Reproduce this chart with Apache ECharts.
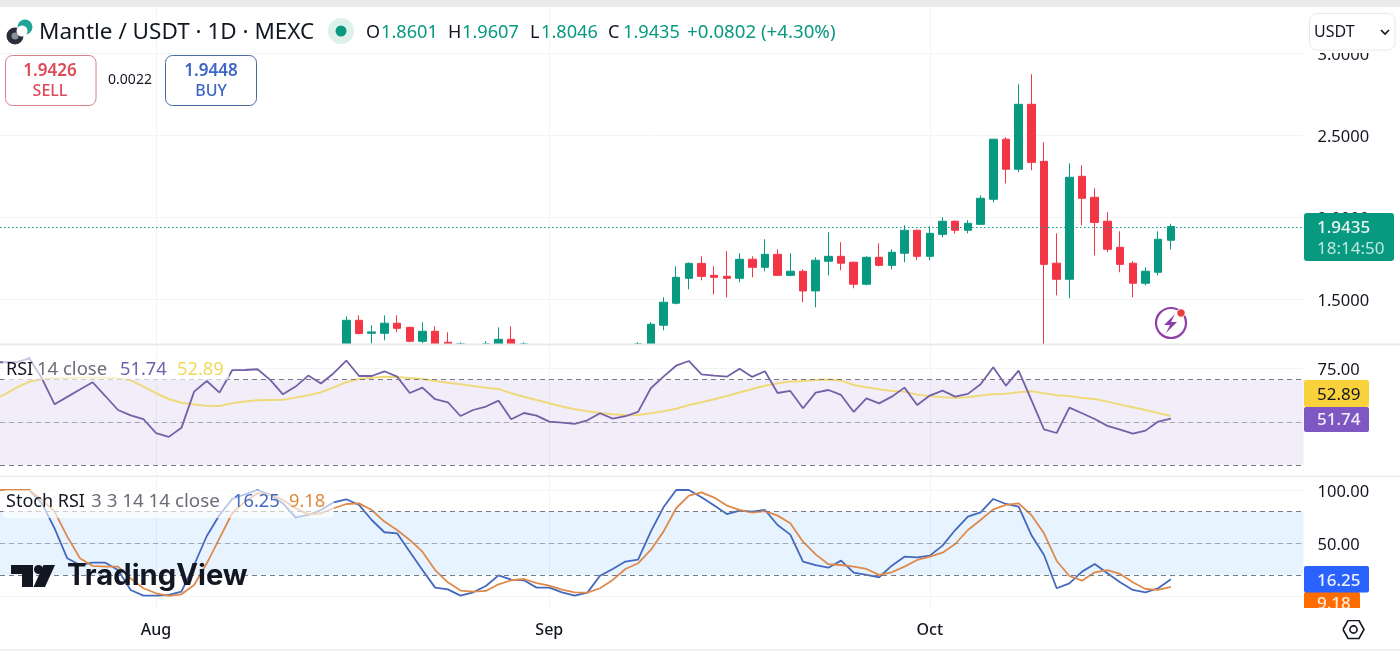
<!DOCTYPE html>
<html><head><meta charset="utf-8">
<style>html,body{margin:0;padding:0;background:#fff}#c{width:1400px;height:655px}</style>
<script src="https://cdn.jsdelivr.net/npm/echarts@6/dist/echarts.min.js"></script>
</head><body><div id="c"></div>
<script>
// ---- data (daily, first entry = 2025-07-19 for the indicators, 2025-08-16 for the candles)
const firstIndicatorDay = '2025-07-19';
const firstCandleDay = '2025-08-16';
const monthTicks = ['2025-08-01','2025-09-01','2025-10-01'];
const monthLabels = ['Aug','Sep','Oct'];
const priceTicks = [1.5,2.0,2.5,3.0];
const rsiTicks = [50,75];
const stochTicks = [0,50,100];
const opens = [1.20,1.372,1.293,1.293,1.354,1.329,1.244,1.305,1.238,1.18,null,1.16,1.20,1.256,1.20,null,null,null,null,null,null,null,null,1.17,1.21,1.342,1.476,1.628,1.719,1.646,1.640,1.628,1.744,1.695,1.774,1.646,1.671,1.551,1.732,1.762,1.726,1.592,1.756,1.707,1.781,1.921,1.762,1.896,1.976,1.921,1.957,2.110,2.476,2.293,2.689,2.341,1.720,1.622,2.250,2.122,1.976,1.817,1.720,1.598,1.665,1.8601];
const closes = [1.372,1.291,1.301,1.354,1.323,1.244,1.305,1.22,1.20,1.20,null,1.20,1.256,1.20,1.18,null,null,null,null,null,null,null,null,1.21,1.348,1.482,1.634,1.719,1.640,1.634,1.628,1.744,1.695,1.774,1.646,1.671,1.551,1.738,1.762,1.720,1.592,1.756,1.707,1.787,1.921,1.762,1.902,1.976,1.921,1.963,2.116,2.476,2.293,2.689,2.335,1.713,1.622,2.244,2.116,1.969,1.805,1.713,1.598,1.671,1.866,1.9435];
const lows = [1.18,1.287,1.230,1.250,1.299,1.238,1.232,1.20,1.18,1.15,null,1.15,1.18,1.18,1.15,null,null,null,null,null,null,null,null,1.15,1.20,1.311,1.469,1.561,1.616,1.530,1.512,1.604,1.634,1.671,1.646,1.640,1.482,1.451,1.646,1.677,1.567,1.585,1.701,1.683,1.726,1.738,1.738,1.878,1.902,1.902,1.955,2.091,2.207,2.274,2.287,1.10,1.524,1.506,1.951,1.768,1.787,1.665,1.512,1.585,1.646,1.8046];
const highs = [1.396,1.402,1.341,1.402,1.402,1.333,1.360,1.335,1.299,1.238,null,1.244,1.329,1.335,1.238,null,null,null,null,null,null,null,null,1.238,1.360,1.512,1.701,1.725,1.762,1.701,1.793,1.780,1.762,1.866,1.805,1.780,1.683,1.756,1.909,1.848,1.730,1.762,1.841,1.805,1.951,1.925,1.945,2.000,1.980,1.982,2.134,2.478,2.488,2.811,2.872,2.457,1.902,2.329,2.317,2.177,2.031,1.915,1.732,1.695,1.915,1.9607];
const rsi = [77.9,77.9,77.9,79.75,70.45,58.35,61.8,65.2,68.6,62.2,55.7,53.2,51.5,44.9,43.2,47.4,64.25,69.2,63.8,74.2,74.3,74.65,69.7,63,66.6,71.7,68,72.8,78.7,71.5,71.5,73.7,71.2,63.6,66.1,60.7,59.3,
 52.9,55.7,57.3,60.05,51.4,54.3,53.1,50.3,49.8,49.2,50.9,54.2,51.7,52.8,54.8,65.8,71.2,76.3,78.5,72.3,71.7,71.2,74.9,71.1,73.7,63.6,64.55,56.5,63.8,65,62.7,
 54.8,61.1,58.8,61.9,66.1,58.05,62.4,64.7,61.9,63.2,67.65,75.6,67,74,60.4,46.7,45,56.8,54.2,51.5,48.3,46.6,44.7,46.1,50.3,51.74];
const rsiMa = [60.35,62.7,66.1,68.9,70.15,70.45,70.6,70.75,70.75,70.75,70.45,69.5,66.6,63.5,60.8,59.1,58.2,57.7,57.6,58.8,59.6,60.2,60.35,60.5,61.45,62.55,63.95,66.25,68.6,70.15,70.75,71.2,71.1,70.6,70.15,69.2,68.4,
 67.65,66.9,66.1,65.5,63.5,61.9,60.35,58.8,57.3,56,55.1,54.3,53.7,53.2,53.4,54.2,55.1,56.3,58.05,59.3,60.7,62.2,63.8,65.5,67,68.1,68.9,69.2,69.7,69.85,69.35,
 67.35,66.25,65.35,64.55,64.25,62.85,62.2,61.6,61.45,61.6,62.4,63,63.3,63.95,64.4,63.5,62.55,62.2,61.3,60.8,59.6,58.2,57,55.7,54.3,52.89];
const stochK = [100,100,100,100,87.5,64.1,36,29.7,31.9,31.9,25,6.3,1,1,1.6,4.7,29.7,56.9,76.6,91.6,96,100,95.4,87.5,74.4,76.6,81.3,88.5,91.3,86,71.9,60.4,59.4,42.2,25,8.5,6.9,
 1,4.1,10,20,16,15.4,8.5,8.5,4.1,1,3.8,19.7,26,32.9,34.7,61,83.8,100,100,93.2,85.4,77.5,80.7,79.7,81.3,67.2,58.2,32.9,29.7,27.2,33.8,
 22.5,20.4,18.2,29.1,37.5,36.9,38.5,47.9,62.5,75,79.1,91.6,86.9,84.4,57.9,39.1,7.9,12.5,23.5,30.7,21.9,13.5,6.3,4.1,7.9,16.25];
const stochD = [100,100,100,100,90.7,79.7,56.3,36,28.8,28.2,28.2,17.2,7.9,3.2,0.7,2.2,11,31.3,54.7,78.2,89.1,96.9,95.4,90.7,82.9,77.2,78.2,82.9,86.9,87.5,81.3,70.4,62.5,53.2,42.2,25,13.5,
 5.7,4.7,5.4,11.6,15.4,16.6,12.8,10.3,6.6,4.1,3.8,7.9,15.7,26,31.3,43.8,61,82.9,94.7,97.8,92.9,85.4,81.3,78.8,80.3,76,68.8,51.6,39.7,30.4,29.7,
 28.2,26,20.4,22.9,28.2,34.4,37.5,41.3,49.4,62.5,71.9,81.9,86,87.5,76.6,59.4,33.5,19.4,15,22.9,25,21.3,13.5,7.2,6.3,9.18];
const lastPrice = 1.9435;

// ---- colours and fonts
const UP='#089981', DOWN='#F23645', GRID='#F3F4F6', FONT='"Noto Sans", sans-serif';
const PRICE_MIN=1.2274, PRICE_MAX=3.2823;
const DAY=864e5;
const ts=s=>Date.parse(s+'T00:00:00Z');
const aug1=ts(monthTicks[0]);
const axisMin=aug1-12.303*DAY, axisMax=aug1+90.457*DAY;
const indDay=i=>ts(firstIndicatorDay)+i*DAY, candleDay=i=>ts(firstCandleDay)+i*DAY;
// the price pane cuts candles off at its lower edge, so anything below it stops at the edge
const floor=v=>Math.max(v,PRICE_MIN);
const candleData=[];
opens.forEach((o,i)=>{ if(o!==null) candleData.push([candleDay(i),floor(o),floor(closes[i]),floor(lows[i]),highs[i]]); });
const pair=a=>a.map((v,i)=>[indDay(i),v]);

const xAxisBase=(gi,labels)=>({
  type:'value',gridIndex:gi,min:axisMin,max:axisMax,scale:true,
  axisLine:{show:false},
  axisTick:{show:false,customValues:monthTicks.map(ts)},
  splitLine:{show:true,lineStyle:{color:GRID,width:1}},
  axisLabel:labels?{show:true,customValues:monthTicks.map(ts),margin:14,color:'#131722',fontSize:16,fontWeight:500,fontFamily:FONT,
    formatter:v=>monthLabels[monthTicks.map(ts).indexOf(+v)]||''}:{show:false}
});
const yAxisBase=(gi,min,max,ticks,dec)=>({
  type:'value',gridIndex:gi,position:'right',min,max,scale:true,
  axisLine:{show:false},
  axisTick:{show:false,customValues:ticks},
  splitLine:{show:true,lineStyle:{color:GRID,width:1}},
  axisLabel:{show:true,customValues:ticks,margin:14,color:'#131722',fontSize:16.5,fontFamily:FONT,align:'left',verticalAlign:'top',lineHeight:4,
    formatter:v=>Number(v).toFixed(dec)}
});
const dashes=(outer,mid)=>({silent:true,symbol:'none',animation:false,label:{show:false},
  lineStyle:{color:'#787B86',type:[5,4],width:1},
  data:outer.map(v=>({yAxis:v})).concat([{yAxis:mid,lineStyle:{color:'#787B86',type:[5,4],width:1,opacity:0.6}}])});

// ---- header, tags, logos drawn as real text and simple shapes
const Z=50, DY=3;
const T=(text,x,y,fill,size,extra)=>({type:'text',z:Z+5,x,y:y+DY,silent:true,style:{text,fill,font:`${(extra&&extra.weight)||400} ${size}px ${(extra&&extra.family)||FONT}`,textVerticalAlign:'middle',textAlign:(extra&&extra.align)||'left'}});
const R=(x,y,w,h,fill,r,stroke,z)=>({type:'rect',z:z||Z,silent:true,shape:{x,y,width:w,height:h,r:r||0},style:{fill:fill||'none',stroke:stroke||'none',lineWidth:1}});
const C=(cx,cy,r,fill,stroke,lw,z)=>({type:'circle',z:z||Z+1,silent:true,shape:{cx,cy,r},style:{fill:fill||'none',stroke:stroke||'none',lineWidth:lw||1}});
const P=(points,fill,z)=>({type:'polygon',z:z||Z+6,silent:true,shape:{points},style:{fill}});
const L=(points,stroke,lw,z)=>({type:'polyline',z:z||Z+6,silent:true,shape:{points},style:{stroke,fill:'none',lineWidth:lw}});
const graphics=[
  // frame bands
  R(1303.5,0,96.5,53,'#fff',0,null,Z-2),
  R(0,0,1400,7,'#EBEBEB',0,null,Z),
  R(0,343.5,1400,2,'#E8E9EB',0,null,Z),
  R(0,475.5,1400,1.5,'#ECEDEF',0,null,Z),
  R(1303.5,608,96.5,12,'#fff',0,null,Z+7),
  R(0,649,1400,1.5,'#ECEDEF',0,null,Z),
  // symbol logo + title
  C(15,36,8.5,'#2A2E39'),C(15,36,3.5,'#8A8F98'),
  C(25,27,7.5,'#1FA596'),C(22,31,5.5,'#fff'),
  T('Mantle / USDT · 1D · MEXC',39,30,'#131722',22.5),
  C(341,31,13,'#DDF1EC'),C(341,31,5.5,UP),
  // OHLC
  T('O',366,29.5,'#131722',18),T('1.8601',381,29.5,UP,18.2),
  T('H',448,29.5,'#131722',18),T('1.9607',462,29.5,UP,18.2),
  T('L',530,29.5,'#131722',18),T('1.8046',541,29.5,UP,18.2),
  T('C',608,29.5,'#131722',18),T('1.9435',623,29.5,UP,18.2),
  T('+0.0802 (+4.30%)',687,29.5,UP,18.7),
  // buy / sell
  R(5.5,55.5,90.5,50,'#fff',7,'#D9808A'),
  T('1.9426',50,68,'#DB4A57',17,{align:'center',weight:600}),T('SELL',50,88,'#DB4A57',16,{align:'center',weight:500}),
  T('0.0022',130,77.5,'#131722',14,{align:'center'}),
  R(165.5,55.5,91,50,'#fff',7,'#4A6B9E'),
  T('1.9448',211,68,'#3D66C6',17,{align:'center',weight:600}),T('BUY',211,88,'#3D66C6',16,{align:'center',weight:500}),
  // currency selector
  R(1309.5,13.5,85.5,36.5,'#fff',7,'#E8E9EB'),
  T('USDT',1314,29.5,'#131722',16),
  L([[1381,30],[1385,34],[1389,30]],'#131722',1.6),
  // price tag
  R(1304,213,90,48,UP,3),
  T('1.9435',1317,225,'#E8F6F3',17,{weight:500}),T('18:14:50',1317,246,'#BFE8DF',17),
  // flash icon
  C(1171,323,15,'none','#8E3FA8',2.2),
  P([[1175,314],[1164,325],[1170,325],[1166,333],[1177,322],[1171,322]],'#8E3FA8'),
  C(1181,313,4.2,'#E53E3E','#fff',1,Z+7),
  // RSI legend
  R(3,358,226,22,'rgba(255,255,255,0.62)',3,null,Z-1),
  T('RSI',6,367,'#131722',18),T('14 close',37,367,'#6A6D78',18.5),
  T('51.74',120,367,'#7460A8',18.3),T('52.89',177,367,'#EFD95F',18.3),
  // RSI tags
  R(1304,380,65,27,'#F9D13A',2),T('52.89',1317,392,'#131722',17),
  R(1304,407,65,25,'#7E57C2',2),T('51.74',1317,417,'#F3EEFB',17,{weight:500}),
  // Stoch legend
  R(3,490,331,28,'rgba(255,255,255,0.62)',3,null,Z-1),
  T('Stoch RSI',6,499,'#131722',18),T('3 3 14 14 close',91,499,'#6A6D78',18.8),
  T('16.25',233,499,'#3F68C4',18.3),T('9.18',289,499,'#E08A3C',18.3),
  // Stoch tags
  R(1304,592,56,18,'#FF6D00',2,null,Z+1),T('9.18',1317,601,'#FFE9D6',17,{weight:500}),
  R(1304,566,65,26.5,'#2962FF',2,null,Z+2),T('16.25',1317,578,'#EEF3FF',17,{weight:500}),
  // TradingView logo
  P([[11,565],[33,565],[33,587],[22,587],[22,574],[11,574]],'#131722'),
  C(38.5,569.5,4.5,'#131722',null,1,Z+6),
  P([[55,565],[43.5,565],[33.5,587],[45,587]],'#131722'),
  T('TradingView',67,573.5,'#131722',29.2,{weight:700,family:'Inter, sans-serif'}),
  // settings
  L([[1343,629.5],[1348,620.5],[1359,620.5],[1364,629.5],[1359,638.5],[1348,638.5],[1343,629.5]],'#131722',1.6),
  C(1353.5,629.5,3.6,'none','#131722',1.6,Z+6)
];

const option={
  animation:false,backgroundColor:'#fff',textStyle:{fontFamily:FONT},
  grid:[
    {left:0,width:1303.5,top:7,height:337},
    {left:0,width:1303.5,top:345,height:131},
    {left:0,width:1303.5,top:477,height:131}
  ],
  xAxis:[xAxisBase(0,false),xAxisBase(1,false),xAxisBase(2,true)],
  yAxis:[
    yAxisBase(0,PRICE_MIN,PRICE_MAX,priceTicks,4),
    yAxisBase(1,25,85.93,rsiTicks,2),
    yAxisBase(2,-10.6,112.2,stochTicks,2)
  ],
  series:[
    {name:'Mantle / USDT',type:'candlestick',xAxisIndex:0,yAxisIndex:0,barWidth:8,clip:true,
      encode:{x:0,y:[1,2,3,4]},data:candleData,
      itemStyle:{color:UP,color0:DOWN,borderColor:UP,borderColor0:DOWN,borderWidth:1},
      markLine:{silent:true,symbol:'none',label:{show:false},lineStyle:{color:UP,type:[1.5,2.5],width:1},data:[{yAxis:lastPrice}]}},
    {name:'RSI band',type:'line',xAxisIndex:1,yAxisIndex:1,data:[],
      markArea:{silent:true,itemStyle:{color:'rgba(126,87,194,0.1)'},data:[[{yAxis:30},{yAxis:70}]]},
      markLine:dashes([70,30],50)},
    {name:'OB base',type:'line',xAxisIndex:1,yAxisIndex:1,stack:'ob',symbol:'none',silent:true,lineStyle:{opacity:0},data:rsi.map((v,i)=>[indDay(i),70])},
    {name:'OB',type:'line',xAxisIndex:1,yAxisIndex:1,stack:'ob',symbol:'none',silent:true,lineStyle:{opacity:0},
      areaStyle:{color:'rgba(76,175,80,0.16)'},data:rsi.map((v,i)=>[indDay(i),Math.max(v-70,0)])},
    {name:'RSI MA',type:'line',xAxisIndex:1,yAxisIndex:1,symbol:'none',lineStyle:{color:'#EFD97A',width:2},data:pair(rsiMa),z:3},
    {name:'RSI',type:'line',xAxisIndex:1,yAxisIndex:1,symbol:'none',lineStyle:{color:'#7460A8',width:1.8},data:pair(rsi),z:4},
    {name:'Stoch band',type:'line',xAxisIndex:2,yAxisIndex:2,data:[],
      markArea:{silent:true,itemStyle:{color:'rgba(33,150,243,0.11)'},data:[[{yAxis:20},{yAxis:80}]]},
      markLine:dashes([80,20],50)},
    {name:'K',type:'line',xAxisIndex:2,yAxisIndex:2,symbol:'none',lineStyle:{color:'#4468BE',width:1.8},data:pair(stochK),z:3},
    {name:'D',type:'line',xAxisIndex:2,yAxisIndex:2,symbol:'none',lineStyle:{color:'#DD8A4C',width:1.8},data:pair(stochD),z:4}
  ],
  graphic:{elements:graphics}
};
echarts.init(document.getElementById('c'),null,{renderer:'canvas'}).setOption(option);
</script>
</body></html>
